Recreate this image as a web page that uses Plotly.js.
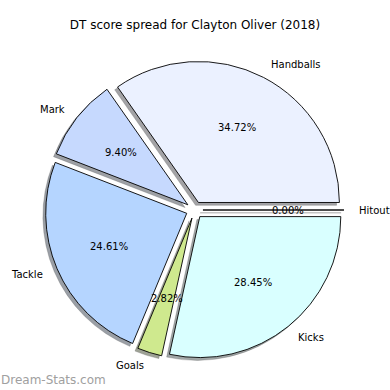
<!DOCTYPE html>
<html><head><meta charset="utf-8">
<script src="https://cdn.plot.ly/plotly-3.0.1.min.js"></script>
<style>html,body{margin:0;padding:0;background:#fff}</style>
</head><body><div id="chart" style="width:390px;height:390px"></div>
<script>
const labels = ['Hitout', 'Handballs', 'Mark', 'Tackle', 'Goals', 'Kicks'];
const percents = [0.00, 34.72, 9.40, 24.61, 2.82, 28.45];
const colors = ['#ffffff', '#ebf1ff', '#c6d9fe', '#b5d5ff', '#cfe98e', '#d9ffff'];
const explode = [0.06, 0.06, 0.06, 0.06, 0.06, 0.06];
const titleText = 'DT score spread for Clayton Oliver (2018)';
const watermark = 'Dream-Stats.com';

const W = 390, H = 390;
const cx = 194.5, cyTop = 210, R = 141;
const maxPull = Math.max(...explode);
const half = R * (1 + maxPull);
const domX = [(cx - half) / W, (cx + half) / W];
const domY = [(H - cyTop - half) / H, (H - cyTop + half) / H];
const sh = 0.02 * R;
const shX = [domX[0] - sh / W, domX[1] - sh / W];
const shY = [domY[0] - sh / H, domY[1] - sh / H];
// text overlay axes: same centre and scale (1 unit = pie radius), larger extent
const axX = 1.3, axY = 1.25;
const axDomX = [(cx - axX * R) / W, (cx + axX * R) / W];
const axDomY = [(H - cyTop - axY * R) / H, (H - cyTop + axY * R) / H];

function darken(hex) {
  const n = parseInt(hex.slice(1), 16);
  const r = Math.round(((n >> 16) & 255) * 0.3), g = Math.round(((n >> 8) & 255) * 0.3), b = Math.round((n & 255) * 0.3);
  return `rgba(${r},${g},${b},0.5)`;
}
const shadowColors = colors.map(darken);

const font = {family: 'DejaVu Sans, sans-serif', size: 10, color: '#000'};
const total = percents.reduce((a, b) => a + b, 0);
const annotations = [];
let start = 0;
percents.forEach((v, i) => {
  const frac = v / total;
  const mid = (start + frac / 2) * 2 * Math.PI;
  start += frac;
  const c = Math.cos(mid), s = Math.sin(mid);
  const ex = explode[i];
  annotations.push({
    xref: 'x', yref: 'y', x: (ex + 1.1) * c, y: (ex + 1.1) * s,
    text: labels[i], showarrow: false, font: font,
    xanchor: c >= 0 ? 'left' : 'right', yanchor: 'middle', borderpad: 0
  });
  annotations.push({
    xref: 'x', yref: 'y', x: (ex + 0.6) * c, y: (ex + 0.6) * s,
    text: (frac * 100).toFixed(2) + '%', showarrow: false, font: font,
    xanchor: 'center', yanchor: 'middle', borderpad: 0
  });
});
annotations.push({
  xref: 'paper', yref: 'paper', x: 0, y: 10 / H, xanchor: 'left', yanchor: 'middle',
  text: watermark, showarrow: false, borderpad: 0,
  font: {family: 'DejaVu Sans, sans-serif', size: 12, color: '#a0a0a0'}
});

const common = {
  type: 'pie', labels: labels, values: percents, sort: false,
  direction: 'counterclockwise', rotation: 90, pull: explode,
  textinfo: 'none', hoverinfo: 'skip', showlegend: false
};
const data = [
  Object.assign({}, common, {
    domain: {x: shX, y: shY},
    marker: {colors: shadowColors, line: {color: 'rgba(70,70,70,0.5)', width: 0.5}}
  }),
  Object.assign({}, common, {
    domain: {x: domX, y: domY},
    marker: {colors: colors, line: {color: '#000', width: 0.9}}
  }),
  {type: 'scatter', x: [], y: [], xaxis: 'x', yaxis: 'y', hoverinfo: 'skip', showlegend: false}
];
const layout = {
  width: W, height: H, margin: {l: 0, r: 0, t: 0, b: 0},
  paper_bgcolor: '#fff', plot_bgcolor: 'rgba(0,0,0,0)',
  title: {text: titleText, x: 0.5, xanchor: 'center', y: 1 - 25 / H, yanchor: 'middle',
          font: {family: 'DejaVu Sans, sans-serif', size: 12, color: '#000'}},
  xaxis: {domain: axDomX, range: [-axX, axX], visible: false, fixedrange: true},
  yaxis: {domain: axDomY, range: [-axY, axY], visible: false, fixedrange: true},
  annotations: annotations,
  showlegend: false
};
Plotly.newPlot('chart', data, layout, {staticPlot: true, displayModeBar: false});
</script></body></html>
